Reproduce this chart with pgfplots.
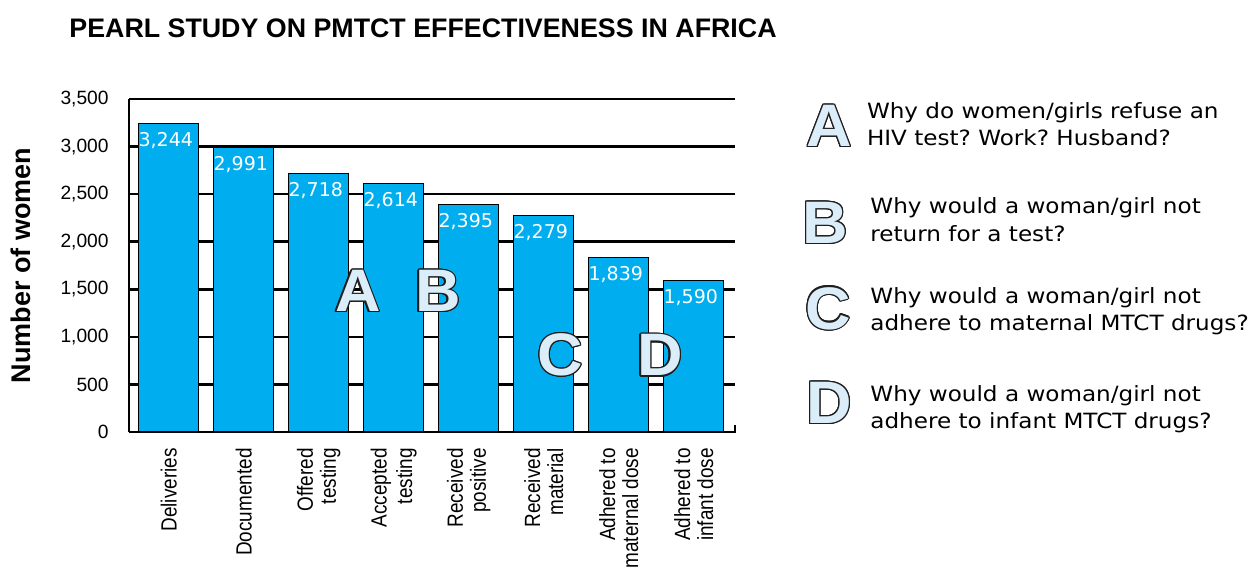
\documentclass[border=0pt]{standalone}
\usepackage{pgfplots}
\pgfplotsset{compat=1.18}
\usepackage{fontspec}
\setmainfont{Liberation Sans}
\newfontfamily\dv{DejaVu Sans}
\newfontfamily\dvw{DejaVu Sans}[FakeStretch=1.1]
\newfontfamily\libn{Liberation Sans}[FakeStretch=0.86]
\newfontfamily\bigf{Liberation Sans}[FakeStretch=1.05]
\definecolor{barblue}{RGB}{0,174,239}
\definecolor{lfill}{RGB}{218,237,248}
\definecolor{outl}{RGB}{30,30,30}
\newcommand\outlet[2]{%
  \foreach \a in {0,22.5,...,337.5}{\node[anchor=base,inner sep=0pt,text=outl,font=\bigf\bfseries\fontsize{30}{30}\selectfont] at ([shift={(\a:0.6pt)}]#1) {#2};}%
  \node[anchor=base,inner sep=0pt,text=lfill,font=\bigf\bfseries\fontsize{30}{30}\selectfont] at (#1) {#2};}
\frenchspacing
\begin{document}
\begin{tikzpicture}
\useasboundingbox (0,0) rectangle (627pt,285pt);
\begin{axis}[
  at={(64.5pt,69pt)}, anchor=south west,
  scale only axis, width=303pt, height=166.5pt,
  xmin=-0.53, xmax=7.55, ymin=0, ymax=3500,
  ytick={0,500,...,3500}, xtick={0,...,7},
  xticklabels={Deliveries, Documented, {Offered\\[1.5pt]testing}, {Accepted\\[1.5pt]testing}, {Received\\[1.5pt]positive}, {Received\\[1.5pt]material}, {Adhered to\\[1.5pt]maternal dose}, {Adhered to\\[1.5pt]infant dose}},
  axis x line*=bottom, axis y line*=left,
  axis line style={line width=1.3pt},
  ymajorgrids, major grid style={black,line width=1.3pt},
  major tick length=0pt,
  scaled y ticks=false,
  yticklabel style={font=\fontsize{9.6}{10}\selectfont, inner sep=0pt},
  yticklabel shift=10pt,
  xticklabel style={font=\libn\fontsize{11}{10}\selectfont, rotate=90, anchor=east, align=right, inner sep=0pt},
  xticklabel shift=8pt,
  ybar, bar width=0.8,
  nodes near coords,
  nodes near coords style={anchor=north, inner sep=0pt, yshift=-4.3pt, xshift=-1.5pt, text=white, font=\dv\fontsize{9.5}{10}\selectfont},
  clip=false,
  /pgf/number format/.cd, 1000 sep={,}, assume math mode=true, /pgfplots/.cd,
]
\addplot[fill=barblue, draw=black, line width=0.5pt] coordinates {(0,3244) (1,2991) (2,2718) (3,2614) (4,2395) (5,2279) (6,1839) (7,1590)};
\coordinate (BL) at (rel axis cs:0,0);
\coordinate (BR) at (rel axis cs:1,0);
\coordinate (PA) at (axis cs:2.52,1264);
\coordinate (PB) at (axis cs:3.587,1264);
\coordinate (PC) at (axis cs:5.22,594);
\coordinate (PD) at (axis cs:6.547,589);
\end{axis}
\draw[line width=1.3pt] (BL) -- (BR) -- ++(0,3.5pt);
% title and y label
\node[anchor=base west, inner sep=0pt, font=\bfseries\fontsize{13.4}{15}\selectfont] at (34.5pt,266.2pt) {PEARL STUDY ON PMTCT EFFECTIVENESS IN AFRICA};
\node[rotate=90, inner sep=0pt, font=\bfseries\fontsize{13.5}{15}\selectfont] at (10.5pt,152.25pt) {Number of women};
% letters in bars
\outlet{PA}{A}
\outlet{PB}{B}
\outlet{PC}{C}
\outlet{PD}{D}
% legend letters
\coordinate (LA) at (414.5pt,211.65pt);
\coordinate (LB) at (412.5pt,163.35pt);
\coordinate (LC) at (414pt,120.5pt);
\coordinate (LD) at (414.5pt,73.35pt);
\outlet{LA}{A}
\outlet{LB}{B}
\outlet{LC}{C}
\outlet{LD}{D}
% legend text
\begin{scope}[every node/.style={anchor=base west, inner sep=0pt, font=\dvw\fontsize{10.5}{12}\selectfont}]
\node at (433.3pt,225.85pt) {Why do women/girls refuse an};
\node at (433.3pt,212.5pt) {HIV test? Work? Husband?};
\node at (435pt,178.35pt) {Why would a woman/girl not};
\node at (435pt,164.15pt) {return for a test?};
\node at (435pt,133.35pt) {Why would a woman/girl not};
\node at (435pt,119.65pt) {adhere to maternal MTCT drugs?};
\node at (435pt,84.15pt) {Why would a woman/girl not};
\node at (435pt,70.85pt) {adhere to infant MTCT drugs?};
\end{scope}
\end{tikzpicture}
\end{document}
